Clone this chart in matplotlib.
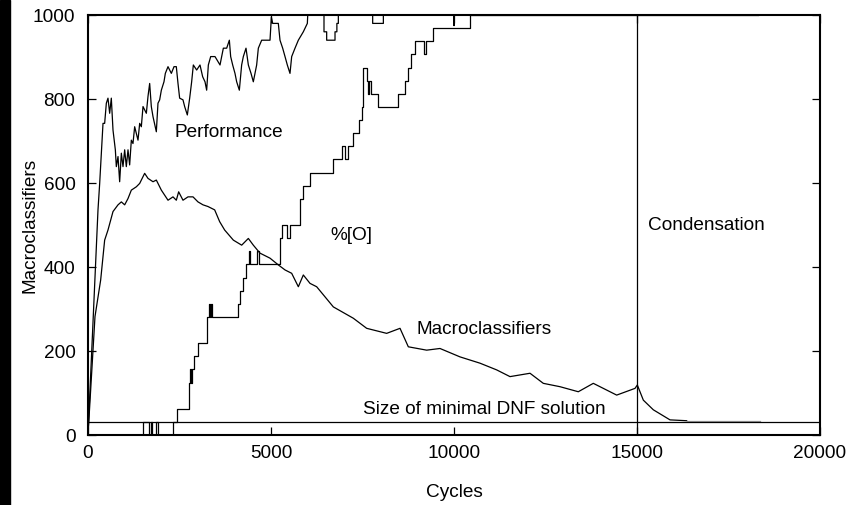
import matplotlib
matplotlib.use("Agg")
import matplotlib.pyplot as plt
from matplotlib.patches import Rectangle

plt.rcParams['font.family'] = ['Liberation Sans', 'DejaVu Sans']
plt.rcParams['font.size'] = 13.7

# Performance (scaled 0-1000); >1000 is clipped at the top
perf_x = [0, 273, 319, 410, 455, 501, 546, 592, 637, 683, 747, 774, 820, 865, 911, 956,
          1002, 1047, 1093, 1138, 1184, 1229, 1275, 1366, 1412, 1457, 1503, 1594, 1639,
          1685, 1730, 1776, 1867, 1912, 1958, 2004, 2076, 2113, 2186, 2277, 2350, 2413,
          2459, 2504, 2595, 2641, 2714, 2778, 2832, 2878, 2969, 3060, 3133, 3197, 3242,
          3288, 3352, 3470, 3607, 3652, 3698, 3789, 3862, 3898, 3953, 4016, 4062, 4135,
          4198, 4244, 4317, 4381, 4454, 4517, 4608, 4654, 4745, 4973, 5010, 5046, 5200,
          5246, 5319, 5383, 5446, 5519, 5565, 5656, 5747, 5883, 5993, 6020,
          6448, 6448, 6521, 6521, 6749, 6749, 6800, 6800, 6840, 6840,
          7778, 7778, 8070, 8070, 9990, 9990, 10010, 10010, 18300]
perf_y = [0, 536, 599, 742, 742, 790, 802, 766, 802, 726, 679, 639, 663, 603, 671, 639,
          679, 639, 679, 643, 702, 694, 734, 702, 742, 734, 782, 766, 806,
          837, 782, 758, 722, 790, 798, 821, 841, 861, 877, 861, 877, 877,
          837, 802, 798, 782, 762, 802, 841, 881, 869, 881, 853, 841, 821,
          881, 901, 901, 881, 901, 921, 921, 940, 901, 881, 861, 841, 821,
          881, 901, 921, 881, 861, 841, 881, 921, 940, 940, 995, 980, 980,
          940, 921, 901, 881, 861, 901, 921, 940, 960, 980, 1030,
          1030, 960, 960, 940, 940, 960, 960, 980, 980, 1030,
          1030, 980, 980, 1030, 1030, 975, 975, 1030, 1030]

# %[O]: number of optimal classifiers found (out of 32), step changes
opt_x = [0, 1494, 1667, 1713, 1760, 1858, 1913, 2314, 2441, 2768, 2800, 2815, 2830,
         2896, 3014, 3242, 3260, 3315, 3340, 3365, 3388, 4107, 4153, 4244, 4317, 4408,
         4430, 4627, 4681, 5246, 5300, 5428, 5519, 5792, 5865, 6066, 6703, 6931, 7022,
         7113, 7249, 7413, 7477, 7523, 7614, 7659, 7690, 7720, 7932, 8478, 8661, 8752,
         8825, 8934, 9180, 9235, 9417, 10437, 18300]
opt_k = [0, 1, 0, 1, 0, 1, 0, 1, 2, 4, 5, 4, 5,
         6, 7, 8, 9, 10, 9, 10, 9, 10, 11, 12, 13, 14,
         13, 14, 13, 15, 16, 15, 16, 18, 19, 20, 21, 22, 21,
         22, 23, 24, 25, 28, 27, 26, 27, 26, 25, 26, 27, 28,
         29, 30, 29, 30, 31, 32, 32]
opt_size = 32

# Macroclassifiers in the population
macro_x = [0, 191, 346, 455, 546, 683, 820, 911, 1002, 1093, 1184, 1321, 1412, 1548,
           1639, 1776, 1867, 2004, 2186, 2322, 2413, 2477, 2595, 2732, 2869, 3005, 3142,
           3278, 3461, 3597, 3734, 3971, 4199, 4381, 4517, 4699, 4973, 5200, 5383, 5565,
           5747, 5883, 6066, 6248, 6703, 7249, 7614, 8160, 8525, 8752, 9253, 9617, 10164,
           10710, 11166, 11530, 12077, 12440, 12896, 13396, 13806, 14445, 14945, 15009,
           15173, 15446, 15902, 16357]
macro_y = [0, 282, 369, 464, 488, 532, 548, 555, 548, 563, 583, 591, 599, 623,
           611, 603, 607, 583, 559, 567, 559, 579, 559, 567, 567, 555, 548,
           544, 536, 508, 488, 464, 452, 468, 452, 433, 421, 405, 393, 385,
           353, 381, 361, 353, 305, 278, 254, 242, 254, 210, 202, 206, 186,
           171, 155, 139, 147, 123, 115, 103, 123, 95, 111, 119,
           83, 60, 36, 34]
tail_x = [16357, 18361]
tail_y = [34, 34]

dnf_size = 32
condensation_start = 15000

fig = plt.figure(figsize=(8.62, 5.05), dpi=100)
ax = fig.add_axes([88 / 862, 70 / 505, 732 / 862, 420 / 505])
fig.patches.append(Rectangle((0, 0), 10 / 862, 1, transform=fig.transFigure,
                             color='black', zorder=5))

lw = 0.9
ax.plot(perf_x, perf_y, color='black', lw=lw)
ax.step(opt_x, [k * 1000 / opt_size for k in opt_k], where='post', color='black', lw=lw)
ax.plot(macro_x, macro_y, color='black', lw=lw)
ax.plot(tail_x, tail_y, color='#999999', lw=lw)
ax.axhline(dnf_size, color='black', lw=lw)
ax.axvline(condensation_start, color='black', lw=lw)

ax.text(2377, 721, 'Performance', va='center')
ax.text(6612, 476, '%[O]', va='center')
ax.text(15300, 500, 'Condensation', va='center')
ax.text(8989, 250, 'Macroclassifiers', va='center')
ax.text(7523, 60, 'Size of minimal DNF solution', va='center')

ax.set_xlim(0, 20000)
ax.set_ylim(0, 1000)
ax.set_xticks([0, 5000, 10000, 15000, 20000])
ax.set_yticks([0, 200, 400, 600, 800, 1000])
ax.tick_params(direction='in', length=6, width=0.9, top=True, right=True)
ax.tick_params(axis='y', pad=9)
ax.tick_params(axis='x', pad=7)
for s in ax.spines.values():
    s.set_linewidth(1.5)
ax.set_xlabel('Cycles', labelpad=16)
ax.set_ylabel('Macroclassifiers')
ax.yaxis.set_label_coords(-0.068, 0.5)

plt.savefig('out.png', dpi=100)
